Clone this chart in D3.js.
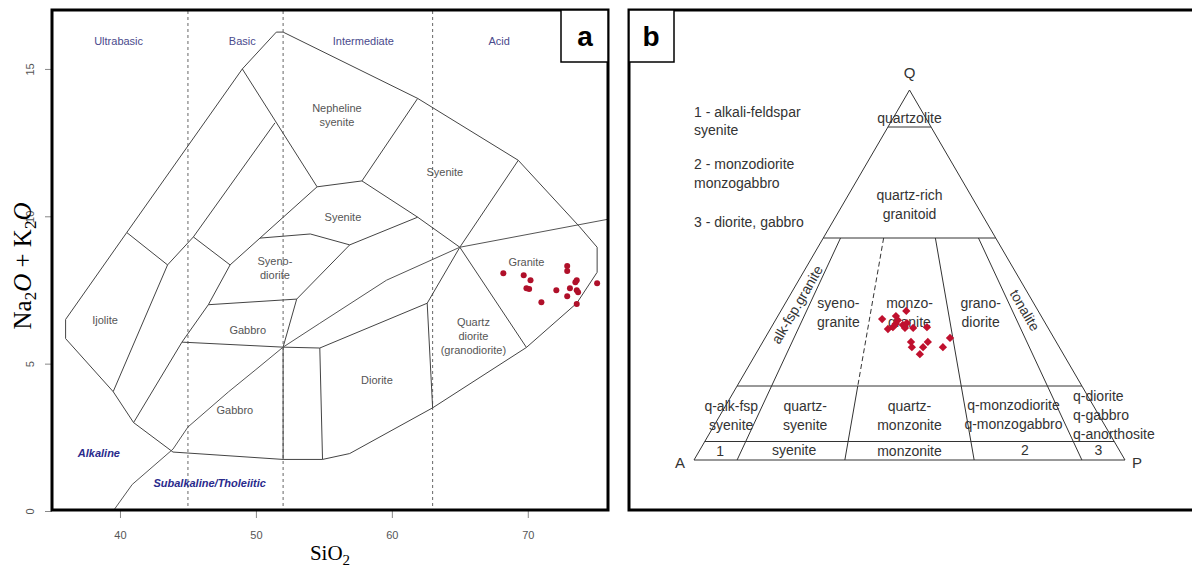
<!DOCTYPE html>
<html>
<head>
<meta charset="utf-8">
<title>TAS and QAP</title>
<script src="https://d3js.org/d3.v7.min.js"></script>
<style>
  body { margin: 0; background: #fff; }
</style>
</head>
<body>
<div id="chart"></div>
<script>
// ---- panel a : TAS samples (SiO2 wt%, Na2O+K2O wt%)
var sio2 = [68.2, 69.7, 70.2, 69.9, 70.1, 71.0, 72.1, 72.9, 72.9, 73.6, 73.5, 73.1, 73.6, 73.7, 72.9, 73.6, 75.1];
var alkalis = [8.07, 8.0, 7.83, 7.56, 7.53, 7.08, 7.49, 8.31, 8.14, 7.83, 7.76, 7.56, 7.49, 7.42, 7.29, 7.02, 7.73];

// ---- panel b : QAP samples (modal %)
var qMode = [40.3, 38.1, 38.9, 37.8, 35.4, 35.9, 36.8, 36.5, 37.0, 35.7, 35.7, 35.9, 31.9, 30.5, 30.5, 31.9, 28.6, 30.5, 33.0];
var aMode = [30.6, 37.3, 33.7, 33.8, 37.3, 35.9, 34.8, 33.3, 32.1, 33.2, 31.3, 28.0, 33.7, 34.2, 31.6, 29.8, 33.3, 27.0, 24.1];
var pMode = [29.1, 24.6, 27.4, 28.4, 27.3, 28.2, 28.4, 30.2, 30.9, 31.1, 33.0, 36.1, 34.4, 35.3, 37.9, 38.3, 38.1, 42.5, 42.9];

// ---- TAS template (SiO2, alkalis)
var xTicks = [40, 50, 60, 70];
var yTicks = [0, 5, 10, 15];
var silicaLimits = [45, 52, 63];
var silicaGroups = ["Ultrabasic", "Basic", "Intermediate", "Acid"];
var silicaGroupX = [39.9, 49.0, 57.9, 67.9];

var outline = [[51.5,16.25],[52,16.25],[61.9,14],[69.3,11.9],[73.8,9.65],[75.1,8.95],[75.1,8.1],[73.6,7.05],
  [69.9,5.55],[63,3.5],[56.9,1.95],[54.9,1.75],[52,1.75],[43.9,2],[41,3],[39.5,4.05],[36,5.85],[36,6.5],
  [40.5,9.45],[49,15],[51.5,16.25]];
var fieldLines = [
  [[49,15],[54.5,11],[57.8,11.2],[61.9,14]],
  [[57.8,11.2],[61.9,9.97],[65,8.95],[69.9,5.55]],
  [[69.3,11.9],[65,8.95],[62.6,7.05],[63,3.5]],
  [[54.5,11],[48.1,8.35]],
  [[50.3,9.26],[54,9.4],[56.9,9.03],[61.9,9.97]],
  [[56.9,9.03],[53,7.19]],
  [[39.5,4.05],[43.5,8.35],[45.4,9.3],[51.4,13.17]],
  [[40.5,9.45],[43.5,8.35]],
  [[45.4,9.3],[48.1,8.35]],
  [[41,3],[44.56,5.73],[46.5,7],[48.1,8.35]],
  [[46.5,7],[53,7.19],[52,5.56]],
  [[44.56,5.73],[52,5.56],[54.7,5.53],[62.6,7.05]],
  [[54.7,5.53],[54.9,1.75]],
  [[52,5.56],[52,1.75]]
];
var alkLineX = [39.5, 40.9, 43.9, 45.0, 48.0, 50.0, 52.0, 54.7, 59.6, 65.0, 75.9];
var alkLineY = [0, 0.9, 2.1, 2.85, 4.05, 4.8, 5.56, 6.37, 7.83, 8.95, 9.9];

var fieldNames = ["Nepheline\nsyenite", "Syenite", "Syenite", "Granite", "Syeno-\ndiorite", "Ijolite", "Gabbro", "Gabbro", "Diorite", "Quartz\ndiorite\n(granodiorite)"];
var fieldX = [55.96, 63.9, 56.4, 69.9, 51.4, 38.9, 49.4, 48.45, 58.9, 66.0];
var fieldY = [13.45, 11.5, 9.98, 8.45, 8.25, 6.48, 6.14, 3.43, 4.45, 5.95];

// ---- QAP template
var qLevels = [90, 60, 20, 5];
var ratioLines = [10, 35, 65, 90];
var legendLines = ["1 - alkali-feldspar", "syenite", "2 - monzodiorite", "monzogabbro", "3 - diorite, gabbro"];
var legendY = [112, 130, 164, 183, 222];
// QAP labels: text, Q%, P/(A+P)%
var qapNames = ["quartzolite", "quartz-rich\ngranitoid", "syeno-\ngranite", "monzo-\ngranite", "grano-\ndiorite",
  "q-alk-fsp\nsyenite", "quartz-\nsyenite", "quartz-\nmonzonite", "q-monzodiorite\nq-monzogabbro",
  "1", "syenite", "monzonite", "2", "3"];
var qapQ = [92.4, 69, 40, 40, 40, 12, 12, 12, 12.3, 2.4, 2.6, 2.4, 2.6, 2.6];
var qapR = [50, 50, 22.5, 50, 77.5, 3, 22.5, 50, 77.5, 5, 22.5, 50, 77.5, 95];

var W = 1192, H = 568;
var FONT = "Liberation Sans, Arial, sans-serif";
var SERIF = "Liberation Serif, DejaVu Serif, serif";
var svg = d3.select("#chart").append("svg").attr("width", W).attr("height", H)
  .style("font-family", FONT);

function multiline(sel, txt, lh) {
  var parts = txt.split("\n");
  parts.forEach(function (p, i) {
    sel.append("tspan").attr("x", sel.attr("x"))
      .attr("dy", i === 0 ? (-(parts.length - 1) * lh / 2) + "px" : lh + "px").text(p);
  });
}

// ================= panel a =================
var x = d3.scaleLinear().domain([35, 75.9]).range([52, 608]);
var y = d3.scaleLinear().domain([0, 17]).range([511, 10]);
var line = d3.line().x(function (d) { return x(d[0]); }).y(function (d) { return y(d[1]); });
var a = svg.append("g");

a.selectAll(".limit").data(silicaLimits).enter().append("line")
  .attr("x1", function (d) { return x(d); }).attr("x2", function (d) { return x(d); })
  .attr("y1", 11).attr("y2", 510)
  .attr("stroke", "#666").attr("stroke-width", 1).attr("stroke-dasharray", "3,3");

a.append("path").datum(outline).attr("d", line)
  .attr("fill", "none").attr("stroke", "#444").attr("stroke-width", 1);
a.selectAll(".fl").data(fieldLines).enter().append("path")
  .attr("d", line).attr("fill", "none").attr("stroke", "#444").attr("stroke-width", 1);
a.append("path").datum(alkLineX.map(function (v, i) { return [v, alkLineY[i]]; }))
  .attr("d", line).attr("fill", "none").attr("stroke", "#555").attr("stroke-width", 1);

fieldNames.forEach(function (n, i) {
  var t = a.append("text").attr("x", x(fieldX[i])).attr("y", y(fieldY[i]))
    .attr("text-anchor", "middle").attr("dominant-baseline", "central")
    .attr("font-size", 11).attr("fill", "#555");
  multiline(t, n, 14);
});
silicaGroups.forEach(function (n, i) {
  a.append("text").attr("x", x(silicaGroupX[i])).attr("y", 41)
    .attr("text-anchor", "middle").attr("dominant-baseline", "central")
    .attr("font-size", 11).attr("fill", "#4a4a8c").text(n);
});
a.append("text").attr("x", x(38.45)).attr("y", y(1.97)).attr("text-anchor", "middle")
  .attr("dominant-baseline", "central").attr("font-size", 11).attr("font-weight", "bold")
  .attr("font-style", "italic").attr("fill", "#2a2a8c").text("Alkaline");
a.append("text").attr("x", x(46.6)).attr("y", y(0.95)).attr("text-anchor", "middle")
  .attr("dominant-baseline", "central").attr("font-size", 11).attr("font-weight", "bold")
  .attr("font-style", "italic").attr("fill", "#2a2a8c").text("Subalkaline/Tholeiitic");

a.selectAll(".pt").data(sio2).enter().append("circle")
  .attr("cx", function (d) { return x(d); })
  .attr("cy", function (d, i) { return y(alkalis[i]); })
  .attr("r", 3).attr("fill", "#b0102a");

// axes
var xa = a.append("g").attr("transform", "translate(0,511)")
  .call(d3.axisBottom(x).tickValues(xTicks).tickSize(7).tickPadding(13).tickFormat(d3.format("d")));
var ya = a.append("g").attr("transform", "translate(52,0)")
  .call(d3.axisLeft(y).tickValues(yTicks).tickSize(7).tickFormat(d3.format("d")));
[xa, ya].forEach(function (g) {
  g.select(".domain").remove();
  g.selectAll("line").attr("stroke", "#888");
  g.selectAll("text").attr("fill", "#555").attr("font-size", 11).attr("font-family", FONT);
});
ya.selectAll(".tick text").attr("text-anchor", "middle").attr("dy", null)
  .attr("dominant-baseline", "central")
  .attr("x", 0).attr("y", -22).attr("transform", "rotate(-90)");

a.append("rect").attr("x", 52).attr("y", 10).attr("width", 556).attr("height", 500)
  .attr("fill", "none").attr("stroke", "#000").attr("stroke-width", 3);
a.append("rect").attr("x", 561).attr("y", 10).attr("width", 47).attr("height", 52)
  .attr("fill", "#fff").attr("stroke", "#000").attr("stroke-width", 1.5);
a.append("text").attr("x", 585).attr("y", 46).attr("text-anchor", "middle")
  .attr("font-size", 28).attr("font-weight", "bold").text("a");

var ylab = a.append("text").attr("transform", "translate(31,266) rotate(-90)")
  .attr("text-anchor", "middle").style("font-family", SERIF).attr("font-size", 25);
ylab.append("tspan").text("Na");
ylab.append("tspan").attr("font-size", 17).attr("dy", 5).text("2");
ylab.append("tspan").attr("font-style", "italic").attr("dy", -5).text("O");
ylab.append("tspan").text(" + K");
ylab.append("tspan").attr("font-size", 17).attr("dy", 5).text("2");
ylab.append("tspan").attr("font-style", "italic").attr("dy", -5).text("O");

var xlab = a.append("text").attr("x", 330).attr("y", 560).attr("text-anchor", "middle")
  .style("font-family", SERIF).attr("font-size", 21);
xlab.append("tspan").text("SiO");
xlab.append("tspan").attr("font-size", 15).attr("dy", 5).text("2");

// ================= panel b =================
var b = svg.append("g");
var base = d3.scaleLinear().domain([0, 100]).range([694, 1125]);
var qy = d3.scaleLinear().domain([0, 100]).range([460, 90]);
function tern(q, r) {
  var f = q / 100;
  return [base(r) * (1 - f) + base(50) * f, qy(q)];
}
var tline = d3.line().x(function (d) { return d[0]; }).y(function (d) { return d[1]; });

b.append("rect").attr("x", 629).attr("y", 10).attr("width", 620).attr("height", 500)
  .attr("fill", "none").attr("stroke", "#000").attr("stroke-width", 3);
b.append("rect").attr("x", 629).attr("y", 10).attr("width", 45).attr("height", 52)
  .attr("fill", "#fff").attr("stroke", "#000").attr("stroke-width", 1.5);
b.append("text").attr("x", 651).attr("y", 46).attr("text-anchor", "middle")
  .attr("font-size", 28).attr("font-weight", "bold").text("b");

var stroke = "#333";
b.append("path").datum([tern(0, 0), tern(100, 0), tern(0, 100), tern(0, 0)])
  .attr("d", tline).attr("fill", "none").attr("stroke", stroke).attr("stroke-width", 1);
qLevels.forEach(function (q) {
  b.append("path").datum([tern(q, 0), tern(q, 100)]).attr("d", tline)
    .attr("fill", "none").attr("stroke", stroke).attr("stroke-width", 1);
});
ratioLines.forEach(function (r) {
  if (r === 35) {
    b.append("path").datum([tern(60, r), tern(20, r)]).attr("d", tline)
      .attr("fill", "none").attr("stroke", stroke).attr("stroke-dasharray", "5,3");
    b.append("path").datum([tern(20, r), tern(0, r)]).attr("d", tline)
      .attr("fill", "none").attr("stroke", stroke);
  } else {
    b.append("path").datum([tern(60, r), tern(0, r)]).attr("d", tline)
      .attr("fill", "none").attr("stroke", stroke);
  }
});

var lbl = "#333";
qapNames.forEach(function (n, i) {
  var p = tern(qapQ[i], qapR[i]);
  var t = b.append("text").attr("x", p[0]).attr("y", p[1])
    .attr("text-anchor", "middle").attr("dominant-baseline", "central")
    .attr("font-size", 14).attr("fill", lbl);
  multiline(t, n, 19);
});
var qd = b.append("text").attr("x", 1073).attr("y", 396).attr("font-size", 14).attr("fill", lbl)
  .attr("dominant-baseline", "central");
["q-diorite", "q-gabbro", "q-anorthosite"].forEach(function (s, i) {
  qd.append("tspan").attr("x", 1073).attr("dy", i === 0 ? 0 : 19).text(s);
});
var pA = tern(42, 5), pT = tern(40.5, 95);
b.append("text").attr("transform", "translate(" + pA[0] + "," + pA[1] + ") rotate(-59.8)")
  .attr("text-anchor", "middle").attr("dominant-baseline", "central")
  .attr("font-size", 14).attr("fill", lbl).text("alk-fsp.granite");
b.append("text").attr("transform", "translate(" + pT[0] + "," + pT[1] + ") rotate(59.8)")
  .attr("text-anchor", "middle").attr("dominant-baseline", "central")
  .attr("font-size", 14).attr("fill", lbl).text("tonalite");

var vQ = tern(100, 0), vA = tern(0, 0), vP = tern(0, 100);
b.append("text").attr("x", vQ[0]).attr("y", vQ[1] - 18).attr("text-anchor", "middle")
  .attr("dominant-baseline", "central").attr("font-size", 15).attr("fill", lbl).text("Q");
b.append("text").attr("x", vA[0] - 14).attr("y", vA[1] + 2).attr("text-anchor", "middle")
  .attr("dominant-baseline", "central").attr("font-size", 15).attr("fill", lbl).text("A");
b.append("text").attr("x", vP[0] + 12).attr("y", vP[1] + 2).attr("text-anchor", "middle")
  .attr("dominant-baseline", "central").attr("font-size", 15).attr("fill", lbl).text("P");

legendLines.forEach(function (s, i) {
  b.append("text").attr("x", 694).attr("y", legendY[i]).attr("dominant-baseline", "central")
    .attr("font-size", 14).attr("fill", lbl).text(s);
});

b.selectAll(".qp").data(qMode).enter().append("path")
  .attr("d", d3.symbol().type(d3.symbolDiamond2).size(44))
  .attr("transform", function (d, i) {
    var r = 100 * pMode[i] / (pMode[i] + aMode[i]);
    var p = tern(d, r);
    return "translate(" + p[0] + "," + p[1] + ")";
  })
  .attr("fill", "#c0102e");
</script>
</body>
</html>
